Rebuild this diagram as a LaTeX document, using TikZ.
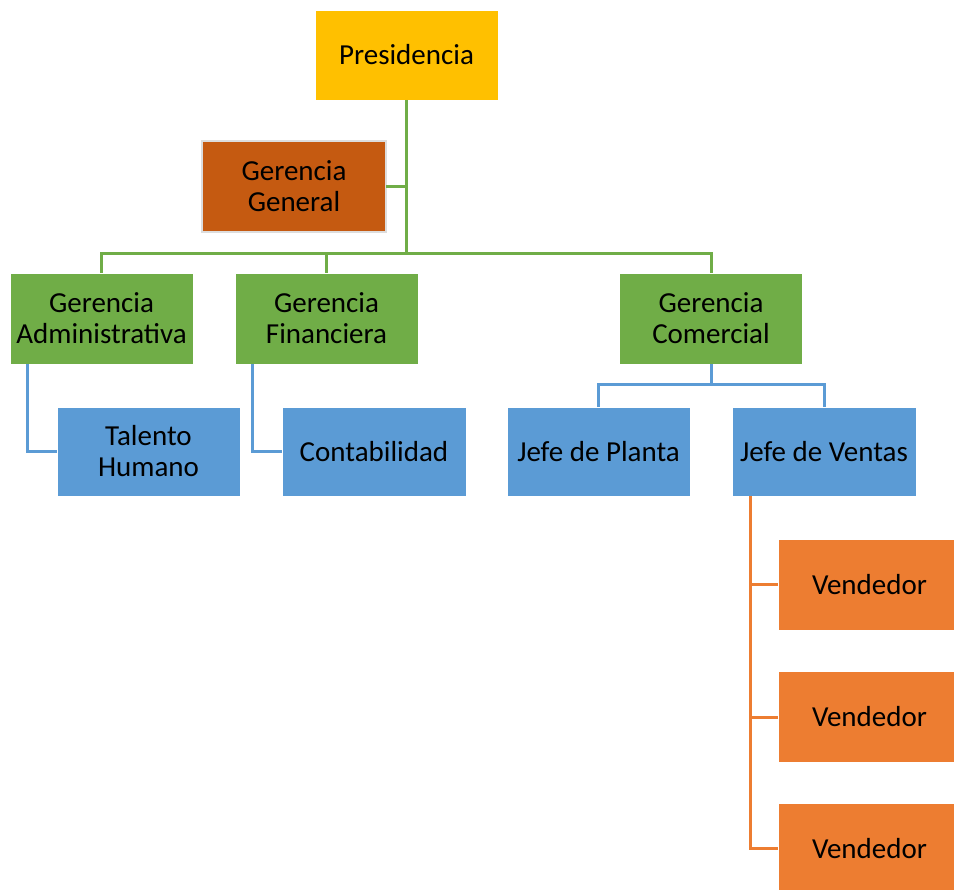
\documentclass[tikz,border=0pt]{standalone}
\usepackage{fontspec}
\setmainfont{Carlito}
\definecolor{cYellow}{HTML}{FFC000}
\definecolor{cBrown}{HTML}{C55A11}
\definecolor{cGreen}{HTML}{70AD47}
\definecolor{cBlue}{HTML}{5B9BD5}
\definecolor{cOrange}{HTML}{ED7D31}
\definecolor{cGray}{HTML}{DDDDDD}
\begin{document}
\begin{tikzpicture}[x=1pt,y=-1pt,
  orgbox/.style={rectangle, inner sep=0pt, outer sep=0pt, minimum width=183pt, minimum height=91pt,
    align=center, font=\fontsize{29}{31}\selectfont, text=black, draw=white, line width=0.8pt},
  gline/.style={draw=cGreen, line width=3pt},
  bline/.style={draw=cBlue, line width=3pt},
  oline/.style={draw=cOrange, line width=3pt}]
\useasboundingbox (0,0) rectangle (954,890);
\fill[white] (0,0) rectangle (954,890);
% nodes
\node[orgbox, fill=cYellow, minimum height=90pt] (pres) at (406.5,55) {Presidencia};
\node[orgbox, fill=cBrown, draw=cGray, line width=2pt, minimum width=184pt] (gg) at (294,186.5) {Gerencia\\General};
\node[orgbox, fill=cGreen] (ga) at (101.5,318.5) {Gerencia\\Administrativa};
\node[orgbox, fill=cGreen] (gf) at (326.5,318.5) {Gerencia\\Financiera};
\node[orgbox, fill=cGreen] (gc) at (711,318.5) {Gerencia\\Comercial};
\node[orgbox, fill=cBlue, minimum height=89pt] (th) at (148.5,451.5) {Talento\\Humano};
\node[orgbox, fill=cBlue, minimum height=89pt, minimum width=184pt] (cont) at (374,451.5) {Contabilidad};
\node[orgbox, fill=cBlue, minimum height=89pt] (jp) at (598.5,451.5) {Jefe de Planta};
\node[orgbox, fill=cBlue, minimum height=89pt, minimum width=184pt] (jv) at (824,451.5) {Jefe de Ventas};
\node[orgbox, fill=cOrange] (v1) at (869.5,584.5) {Vendedor};
\node[orgbox, fill=cOrange] (v2) at (869.5,717) {Vendedor};
\node[orgbox, fill=cOrange] (v3) at (869.5,848.5) {Vendedor};
% connector points
\coordinate (hub) at (406.5,254);
\coordinate (hubc) at (711,385);
\coordinate (ta) at ([xshift=17pt]ga.south west);
\coordinate (tf) at ([xshift=17pt]gf.south west);
\coordinate (tv) at ([xshift=18pt]jv.south west);
% green
\draw[gline] (pres.south) -- (hub);
\draw[gline] (gg.east) -- (gg.east -| hub);
\draw[gline] (ga.north) -- (ga.north |- hub) -- (gc.north |- hub) -- (gc.north);
\draw[gline] (gf.north) -- (gf.north |- hub);
% blue
\draw[bline] (ta) |- (th.west);
\draw[bline] (tf) |- (cont.west);
\draw[bline] (gc.south) -- (hubc);
\draw[bline] (jp.north) -- (jp.north |- hubc) -- (jv.north |- hubc) -- (jv.north);
% orange
\draw[oline] (tv) |- (v3.west);
\draw[oline] (v1.west) -- (v1.west -| tv);
\draw[oline] (v2.west) -- (v2.west -| tv);
\end{tikzpicture}
\end{document}
